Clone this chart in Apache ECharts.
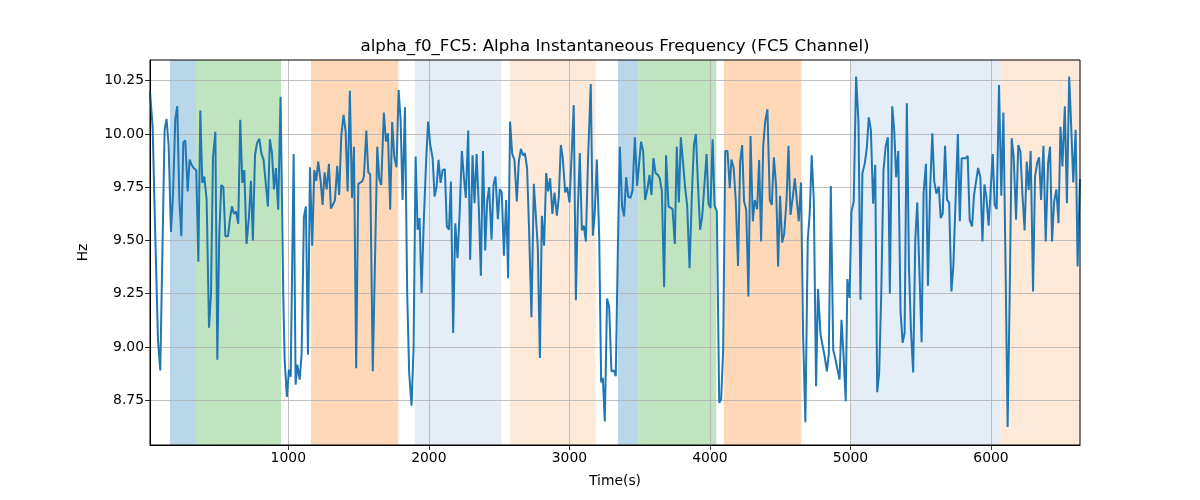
<!DOCTYPE html>
<html>
<head>
<meta charset="utf-8">
<script src="https://cdn.jsdelivr.net/npm/echarts@6/dist/echarts.min.js"></script>
<style>html,body{margin:0;padding:0;background:#fff}#chart{width:1200px;height:500px}</style>
</head>
<body>
<div id="chart"></div>
<script>
const times = [16,35,49,73,89,120,134,149,165,180,196,210,225,239,253,267,284,298,312,327,345,360,374,388,402,419,436,450,464,481,495,509,523,538,552,571,585,599,613,628,644,658,673,687,703,720,734,748,763,777,794,808,824,
855,869,884,898,912,928,945,964,974,990,1005,1017,1038,1052,1064,1081,1095,1111,1125,1140,1154,1170,1185,1199,1213,1230,1244,1258,1273,1289,1303,1317,1332,1348,1362,1377,1393,1408,1422,1438,1453,1467,1483,1498,1512,1526,1538,1555,1569,1583,1601,1616,1633,1647,1661,
1680,1695,1709,1725,1739,1754,1770,1785,1799,1813,1830,1846,1860,1877,1891,1906,1920,1934,1948,1965,1981,1995,2010,2027,2041,2055,2069,2083,2098,2114,2128,2143,2157,2173,2188,2204,2219,2235,2249,2263,2280,2294,2311,2325,2340,2356,2370,2385,2401,2415,2429,2446,2460,2474,
2491,2505,2519,2534,2550,2564,2578,2593,2609,2626,2640,2655,2669,2683,2699,2714,2730,2747,2761,2775,2790,2804,2820,2835,2849,2863,2879,2894,2911,2925,2939,2953,2970,2984,3001,3015,3031,3046,3060,3074,3089,3103,3117,3133,3152,3167,3181,3195,3212,3226,3238,3252,3268,3283,3299,3316,3330,
3345,3359,3375,3389,3404,3418,3434,3449,3466,3482,3496,3510,3525,3539,3556,3570,3584,3598,3613,3629,3643,3658,3674,3688,3705,3719,3734,3750,3764,3779,3793,3807,3824,3838,3855,3871,3886,3900,3914,3930,3945,3959,3976,3990,4004,4019,4033,4049,4066,4080,4094,4109,4125,
4141,4153,4169,4184,4200,4215,4229,4243,4258,4274,4289,4305,4319,4336,4350,4364,4379,4393,4409,4426,4440,4455,4471,4485,4499,4514,4528,4545,4559,4573,4590,4604,4618,4632,4648,4663,4679,4696,4710,4724,4739,4755,4769,4787,4801,4815,4832,4846,4860,4877,4891,4905,4922,4936,4950,4966,
4978,4993,5007,5023,5040,5057,5071,5085,5102,5116,5130,5145,5161,5176,5190,5204,5219,5235,5250,5266,5280,5297,5311,5325,5340,5356,5371,5385,5401,5416,5430,5446,5461,5475,5492,5506,5520,5537,5551,5566,5582,5596,5611,5628,5642,5656,5673,5687,5702,5718,5732,5747,5764,5778,5791,
5805,5820,5834,5848,5865,5879,5893,5908,5924,5939,5953,5967,5983,5998,6012,6026,6040,6057,6073,6088,6104,6118,6133,6147,6161,6178,6194,6209,6223,6239,6254,6268,6282,6299,6313,6328,6342,6356,6373,6389,6406,6420,6434,6449,6465,6480,6494,6508,6525,6540,6556,6571,6585,6602,6616,6633];

const values = [10.20,10.03,9.64,9.03,8.89,10.02,10.07,9.94,9.54,9.72,10.07,10.13,9.69,9.52,9.96,9.97,9.73,9.88,9.855,9.84,9.83,9.40,10.11,9.77,9.80,9.69,9.09,9.25,9.89,10.01,8.94,9.53,9.76,9.75,9.52,9.52,9.60,9.66,9.625,9.636,9.578,10.066,9.77,9.83,9.484,9.61,9.78,9.50,9.90,9.956,9.977,9.91,9.878,
9.659,9.975,9.91,9.74,9.84,9.644,10.175,9.253,8.94,8.766,8.894,8.86,9.906,8.823,8.917,8.847,8.97,9.61,9.66,8.964,9.844,9.475,9.83,9.78,9.87,9.78,9.667,9.82,9.74,9.86,9.65,9.667,9.69,9.85,9.714,9.99,10.09,10.01,9.73,10.203,9.70,9.94,8.90,9.766,9.77,9.777,9.80,10.016,9.82,9.81,8.886,9.378,9.94,9.79,9.76,
10.10,9.964,10.003,9.644,10.056,9.894,9.844,10.206,10.066,9.69,10.125,9.253,8.878,8.725,8.987,9.894,9.55,9.605,9.253,9.61,9.878,10.058,9.948,9.886,9.706,9.753,9.878,9.77,9.83,9.834,9.566,9.55,9.777,9.066,9.58,9.417,9.628,9.92,9.80,9.70,10.016,9.41,9.90,9.675,9.906,9.644,9.334,9.92,9.453,9.683,9.75,9.503,9.76,9.80,
9.60,9.74,9.725,9.428,9.69,9.323,10.058,9.906,9.878,9.683,9.87,9.93,9.90,9.91,9.84,9.534,9.14,9.766,9.766,9.472,8.948,9.616,9.475,9.816,9.73,9.792,9.625,9.725,9.616,9.706,9.948,9.886,9.725,9.75,9.678,9.886,10.136,9.219,9.644,9.91,9.547,9.569,9.495,9.89,10.234,9.522,9.636,9.88,9.519,8.834,8.855,8.65,9.228,9.188,8.886,8.89,8.863,
9.47,9.94,9.66,9.613,9.797,9.706,9.70,9.734,9.984,9.756,9.863,9.964,9.917,9.69,9.745,9.808,9.714,9.886,9.816,9.808,9.792,9.73,9.28,9.90,9.66,9.656,9.647,9.484,9.94,9.678,9.984,9.975,9.745,9.663,9.37,9.706,9.948,10.0,9.777,9.55,9.613,9.616,9.906,9.672,9.652,9.975,9.663,9.636,8.738,8.756,8.987,9.92,9.92,
9.745,9.88,9.84,9.683,9.38,9.87,9.948,9.683,9.644,9.237,9.99,9.59,9.69,9.647,9.878,9.495,9.944,10.058,10.116,9.69,9.667,9.89,9.753,9.378,9.71,9.49,9.53,9.69,9.944,9.62,9.706,9.792,9.792,9.59,9.772,9.05,8.647,9.503,9.628,9.90,9.69,8.816,9.272,9.056,9.047,8.96,8.886,8.97,9.756,8.987,8.948,8.956,8.847,9.128,8.97,8.745,
9.319,9.23,9.636,9.683,10.269,10.05,9.222,9.816,9.863,9.933,10.078,10.019,9.672,9.855,8.788,8.878,9.253,9.83,9.94,9.984,9.25,10.13,10.019,9.797,9.92,9.167,9.02,9.066,10.144,9.378,9.081,8.88,9.503,9.678,9.323,9.022,9.722,9.86,9.288,9.73,10.003,9.777,9.72,9.753,9.605,9.625,9.944,9.69,9.678,9.261,9.38,9.675,10.0,9.59,9.886,
9.89,9.886,9.897,9.597,9.566,9.714,9.706,9.84,9.797,9.495,9.763,9.703,9.569,9.745,9.906,9.667,9.647,10.23,9.71,10.10,9.347,8.625,9.253,9.98,9.894,9.597,9.948,9.917,9.72,9.547,9.87,9.737,9.92,9.261,9.80,9.863,9.89,9.69,9.944,9.495,9.863,9.94,9.495,9.683,9.74,9.581,10.034,9.847,10.13,9.675,10.269,10.027,9.772,10.019,9.378,9.788];

const bandStarts = [158, 343, 1161, 1900, 2576, 3345, 3490, 4099, 5004, 6068];
const bandEnds   = [343, 948, 1783, 2516, 3187, 3490, 4045, 4650, 6068, 6633];
const bandKinds  = ['blue','green','orange','lightblue','lightorange','blue','green','orange','lightblue','lightorange'];

const xTicks = [1000, 2000, 3000, 4000, 5000, 6000];
const yTicks = [8.75, 9.00, 9.25, 9.50, 9.75, 10.00, 10.25];

const bandColor = {
  blue: '#bad6e9', green: '#c0e3c0', orange: '#ffd9b7',
  lightblue: '#e5edf7', lightorange: '#ffeada'
};

const chart = echarts.init(document.getElementById('chart'), null, {renderer: 'canvas'});
const font = 'DejaVu Sans';
const gridLine = {show: true, lineStyle: {color: '#b0b0b0', width: 0.8}};

chart.setOption({
  animation: false,
  backgroundColor: '#fff',
  title: {
    text: 'alpha_f0_FC5: Alpha Instantaneous Frequency (FC5 Channel)',
    left: 615, textAlign: 'center', top: 38, padding: 0,
    textStyle: {fontFamily: font, fontSize: 16.7, fontWeight: 'normal', color: '#000'}
  },
  grid: {left: 150, right: 120, top: 60, bottom: 55, show: true, z: 5, borderColor: '#000', borderWidth: 1, backgroundColor: 'transparent', containLabel: false},
  xAxis: {
    type: 'value', min: 16, max: 6633, z: 1.5,
    name: 'Time(s)', nameLocation: 'middle', nameGap: 29,
    nameTextStyle: {fontFamily: font, fontSize: 13.9, color: '#000'},
    axisLine: {show: true, onZero: false, lineStyle: {color: '#000', width: 1}},
    axisTick: {show: true, length: 5, lineStyle: {color: '#000', width: 0.8}, customValues: xTicks},
    axisLabel: {fontFamily: font, fontSize: 13.9, color: '#000', margin: 6, customValues: xTicks, formatter: v => String(v)},
    splitLine: gridLine
  },
  yAxis: {
    type: 'value', min: 8.54, max: 10.347, z: 1.5,
    name: 'Hz', nameLocation: 'middle', nameGap: 60, nameRotate: 90,
    nameTextStyle: {fontFamily: font, fontSize: 13.9, color: '#000'},
    axisLine: {show: true, lineStyle: {color: '#000', width: 1}},
    axisTick: {show: true, length: 5, lineStyle: {color: '#000', width: 0.8}, customValues: yTicks},
    axisLabel: {fontFamily: font, fontSize: 13.9, color: '#000', margin: 6, customValues: yTicks, formatter: v => v.toFixed(2)},
    splitLine: gridLine
  },
  series: [
    {
      type: 'line', data: [], z: 1, silent: true,
      markArea: {
        silent: true,
        data: bandStarts.map((s, i) => [
          {xAxis: s, itemStyle: {color: bandColor[bandKinds[i]]}},
          {xAxis: bandEnds[i]}
        ])
      }
    },
    {
      type: 'line', z: 2,
      data: times.map((t, i) => [t, values[i]]),
      showSymbol: false, symbol: 'none',
      lineStyle: {color: '#1f77b4', width: 2},
      clip: true
    }
  ]
});
</script>
</body>
</html>
